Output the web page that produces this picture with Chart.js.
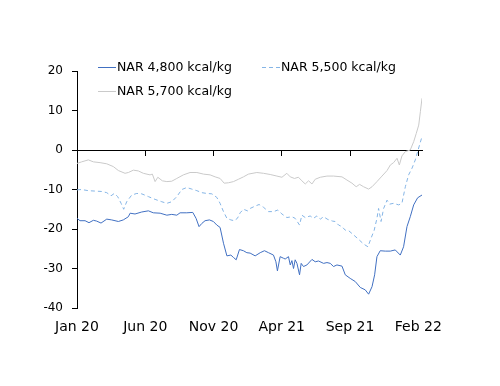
<!DOCTYPE html>
<html>
<head>
<meta charset="utf-8">
<script src="https://cdn.jsdelivr.net/npm/chart.js@4"></script>
<style>
  html, body { margin: 0; padding: 0; background: #fff; }
  #wrap { width: 500px; height: 386px; }
</style>
</head>
<body>
<div id="wrap"><canvas id="coalChart"></canvas></div>
<script>
// x positions are months since Jan 2020
const tickMonths = [0, 5, 10, 15, 20, 25];
const tickLabels = ['Jan 20', 'Jun 20', 'Nov 20', 'Apr 21', 'Sep 21', 'Feb 22'];
const xMax = 25.27;

const seriesNames = ['NAR 4,800 kcal/kg', 'NAR 5,500 kcal/kg', 'NAR 5,700 kcal/kg'];

const monthsA = [0, 0.22, 0.59, 0.88, 1.20, 1.44, 1.76, 2.18, 2.54, 3.03,
  3.39, 3.76, 3.89, 4.25, 4.74, 5.23, 5.59, 6.09, 6.58, 6.94,
  7.31, 7.55, 8.04, 8.48, 8.72, 8.94, 9.14, 9.38, 9.70, 9.99,
  10.24, 10.48, 10.73, 10.98, 11.27, 11.46, 11.66, 11.90, 12.19, 12.44,
  12.68, 13.05, 13.42, 13.73, 14.03, 14.39, 14.57, 14.68, 14.88, 15.12,
  15.25, 15.49, 15.62, 15.74, 15.86, 15.98, 16.11, 16.30, 16.42, 16.59,
  16.84, 17.21, 17.45, 17.69, 18.06, 18.31, 18.55, 18.79, 19.04, 19.41,
  19.65, 20.01, 20.38, 20.75, 21.11, 21.36, 21.61, 21.80, 21.97, 22.21,
  22.58, 22.95, 23.31, 23.68, 23.92, 24.17, 24.41, 24.66, 24.95, 25.27];
const nar4800 = [-17.3, -17.9, -17.9, -18.4, -17.8, -18.0, -18.5, -17.5, -17.7, -18.1,
  -17.7, -16.9, -16.0, -16.2, -15.7, -15.4, -15.9, -16.0, -16.5, -16.3,
  -16.5, -15.9, -15.9, -15.8, -17.3, -19.4, -18.6, -17.9, -17.7, -18.1,
  -19.0, -19.6, -23.6, -26.8, -26.6, -27.2, -27.8, -25.2, -25.5, -26.0,
  -26.1, -26.8, -26.0, -25.5, -26.0, -26.6, -28.3, -30.6, -27.0, -27.4,
  -27.6, -27.0, -29.1, -28.0, -30.0, -27.8, -28.7, -31.6, -28.7, -29.5,
  -29.1, -27.7, -28.3, -28.1, -28.7, -28.5, -28.7, -29.5, -29.1, -29.4,
  -31.6, -32.5, -33.3, -34.8, -35.4, -36.5, -34.6, -31.6, -27.0, -25.5,
  -25.6, -25.6, -25.3, -26.6, -24.5, -19.4, -16.9, -13.9, -12.1, -11.4];

const monthsB = [0, 0.34, 0.83, 1.32, 1.81, 2.18, 2.49, 2.73, 2.98, 3.23,
  3.42, 3.64, 4.01, 4.38, 4.74, 5.23, 5.72, 6.21, 6.58, 6.94,
  7.31, 7.68, 8.04, 8.41, 8.78, 9.14, 9.51, 9.88, 10.24, 10.48,
  10.73, 10.98, 11.27, 11.51, 11.75, 11.95, 12.19, 12.49, 12.68, 13.05,
  13.34, 13.66, 14.03, 14.39, 14.71, 15.01, 15.37, 15.74, 15.98, 16.30,
  16.47, 16.72, 17.08, 17.32, 17.57, 17.82, 18.06, 18.38, 18.72, 18.91,
  19.16, 19.41, 19.65, 19.89, 20.26, 20.62, 20.99, 21.31, 21.53, 21.77,
  21.97, 22.09, 22.27, 22.46, 22.71, 22.90, 23.19, 23.56, 23.80, 24.05,
  24.29, 24.54, 24.78, 24.95, 25.11, 25.27];
const nar5500 = [-10.1, -10.0, -10.3, -10.4, -10.5, -10.8, -11.6, -11.0, -11.8, -13.5,
  -15.0, -13.1, -11.4, -11.0, -11.1, -11.8, -12.5, -13.1, -13.5, -13.1,
  -11.8, -10.0, -9.5, -9.9, -10.3, -10.8, -11.0, -11.1, -12.0, -13.5,
  -15.6, -17.3, -17.7, -17.9, -17.3, -15.9, -15.0, -15.4, -14.8, -14.2,
  -13.8, -14.5, -15.6, -15.6, -15.2, -16.2, -17.1, -16.9, -17.3, -19.0,
  -16.5, -17.1, -16.7, -17.3, -16.7, -17.5, -16.9, -17.6, -18.0, -18.1,
  -19.0, -19.4, -20.3, -20.4, -21.5, -22.6, -23.8, -24.5, -22.4, -20.3,
  -17.3, -14.8, -18.1, -14.8, -12.7, -13.7, -13.5, -13.9, -13.5, -9.3,
  -6.3, -4.6, -2.5, -0.4, 1.5, 3.4];

const monthsC = [0, 0.34, 0.83, 1.20, 1.69, 2.18, 2.66, 3.03, 3.52, 3.76,
  4.13, 4.49, 4.86, 5.35, 5.52, 5.72, 5.92, 6.25, 6.58, 6.94,
  7.31, 7.79, 8.28, 8.78, 9.26, 9.75, 10.12, 10.48, 10.78, 11.09,
  11.46, 11.83, 12.19, 12.56, 13.17, 13.66, 14.15, 14.64, 15.01, 15.37,
  15.62, 15.93, 16.22, 16.47, 16.72, 16.96, 17.21, 17.45, 17.82, 18.31,
  18.79, 19.41, 19.77, 20.14, 20.45, 20.70, 20.99, 21.36, 21.61, 21.97,
  22.34, 22.71, 22.95, 23.19, 23.44, 23.61, 23.80, 24.05, 24.41, 24.66,
  24.85, 25.03, 25.15, 25.27];
const nar5700 = [-3.4, -3.0, -2.5, -3.0, -3.2, -3.5, -4.2, -5.2, -5.9, -5.7,
  -5.1, -5.3, -5.9, -6.3, -6.1, -8.0, -6.9, -7.8, -8.0, -7.9,
  -7.2, -6.3, -5.7, -5.7, -6.1, -6.3, -6.8, -7.2, -8.4, -8.3,
  -8.0, -7.4, -6.8, -6.1, -5.7, -5.9, -6.2, -6.6, -6.9, -5.9,
  -6.8, -7.2, -6.9, -7.8, -8.6, -7.8, -8.6, -7.4, -6.9, -6.6,
  -6.6, -6.8, -7.6, -8.4, -9.3, -8.7, -9.3, -9.9, -9.3, -8.0,
  -6.6, -5.2, -3.8, -3.2, -2.1, -3.8, -1.5, -0.4, 0, 2.1,
  4.2, 6.3, 9.7, 13.1];

const toPoints = (xs, ys) => xs.map((x, i) => ({x: x, y: ys[i]}));

const FONT = {family: 'DejaVu Sans', size: 12};
const XFONT = {family: 'DejaVu Sans', size: 14};

const colors = ['#4170C2', '#85B5E6', '#CACACA'];
const dashes = [[], [4, 3], []];

// Легенда поверх области графика
const insideLegend = {
  id: 'insideLegend',
  afterDraw(chart) {
    const ctx = chart.ctx;
    const spots = [[98, 67.5], [262, 67.5], [98, 91.5]];
    ctx.save();
    ctx.font = '12.5px ' + FONT.family;
    ctx.textBaseline = 'middle';
    ctx.textAlign = 'left';
    spots.forEach(([x, y], i) => {
      ctx.strokeStyle = colors[i];
      ctx.lineWidth = 1;
      ctx.setLineDash(dashes[i]);
      ctx.beginPath();
      ctx.moveTo(x, y);
      ctx.lineTo(x + 18, y);
      ctx.stroke();
      ctx.setLineDash([]);
      ctx.fillStyle = '#000';
      ctx.fillText(seriesNames[i], x + 19, y);
    });
    ctx.restore();
  }
};

const setTicks = scale => { scale.ticks = tickMonths.map(v => ({value: v})); };

new Chart(document.getElementById('coalChart').getContext('2d'), {
  type: 'line',
  data: {
    datasets: [
      {label: seriesNames[0], data: toPoints(monthsA, nar4800), borderColor: colors[0], borderWidth: 1},
      {label: seriesNames[1], data: toPoints(monthsB, nar5500), borderColor: colors[1], borderWidth: 1, borderDash: dashes[1]},
      {label: seriesNames[2], data: toPoints(monthsC, nar5700), borderColor: colors[2], borderWidth: 1}
    ]
  },
  options: {
    responsive: true,
    maintainAspectRatio: false,
    animation: false,
    layout: {padding: {top: 71, right: 78, left: 0, bottom: 0}},
    elements: {point: {radius: 0}, line: {tension: 0}},
    plugins: {legend: {display: false}, tooltip: {enabled: false}},
    scales: {
      x: {
        type: 'linear', min: 0, max: xMax,
        afterBuildTicks: setTicks,
        afterFit: s => { s.height = 78; },
        grid: {display: false, drawTicks: false},
        border: {display: false},
        ticks: {
          font: XFONT, color: '#000', padding: 11, maxRotation: 0, autoSkip: false,
          callback: v => tickLabels[tickMonths.indexOf(v)]
        }
      },
      x2: {
        type: 'linear', min: 0, max: xMax,
        position: {y: 0},
        afterBuildTicks: setTicks,
        grid: {drawOnChartArea: false, drawTicks: true, tickLength: 5, color: '#000'},
        border: {display: true, color: '#000', width: 1},
        ticks: {display: false}
      },
      y: {
        min: -40, max: 20,
        afterFit: s => { s.width = 77; },
        grid: {drawOnChartArea: false, tickLength: 5, color: '#000'},
        border: {color: '#000', width: 1},
        ticks: {stepSize: 10, font: FONT, color: '#000', padding: 9}
      }
    }
  },
  plugins: [insideLegend]
});
</script>
</body>
</html>
